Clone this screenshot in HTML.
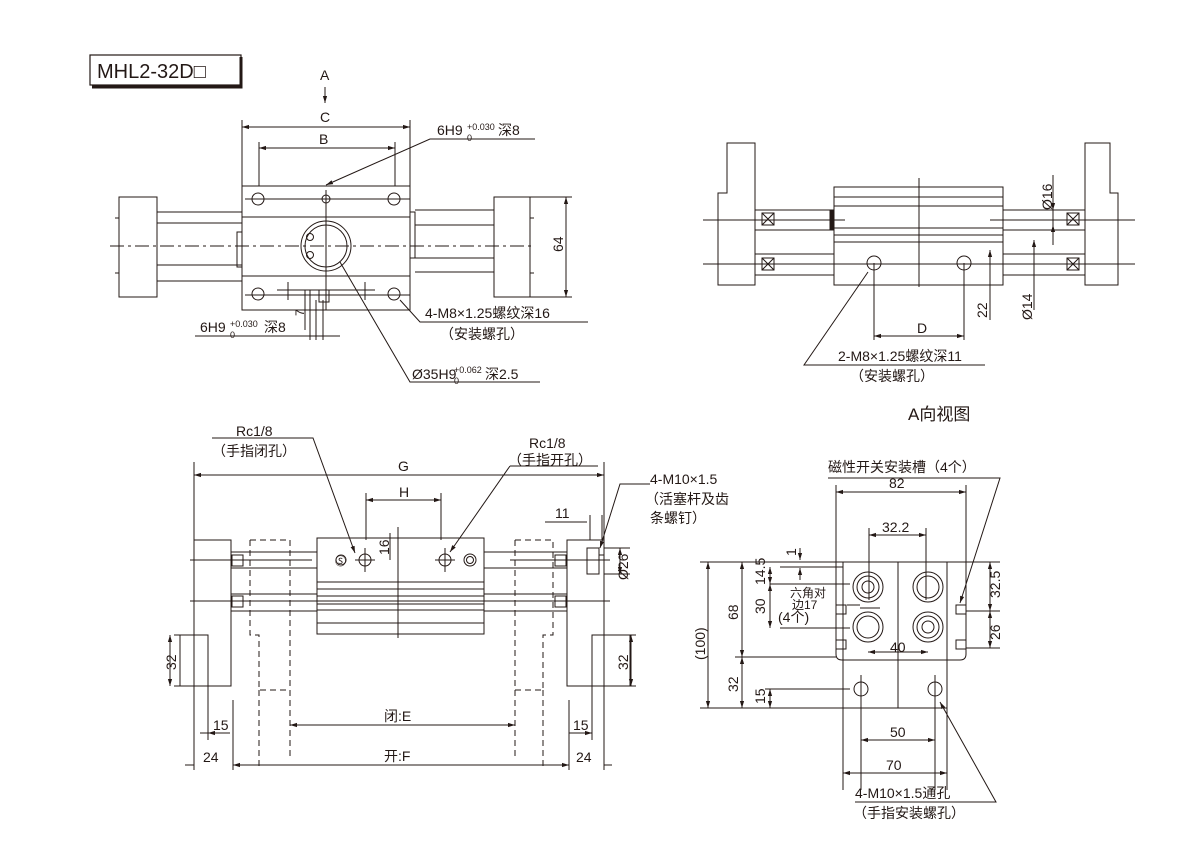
<!DOCTYPE html>
<html><head><meta charset="utf-8"><style>
html,body{margin:0;padding:0;background:#fff}
svg{display:block}
text{font-family:"Liberation Sans","Noto Sans CJK SC",sans-serif;fill:#231815}
</style></head><body>
<svg width="1200" height="850" viewBox="0 0 1200 850" xmlns="http://www.w3.org/2000/svg">
<defs>
<marker id="a" viewBox="0 0 10 10" refX="10" refY="5" markerWidth="7" markerHeight="7" orient="auto-start-reverse"><path d="M0,2 L10,5 L0,8z" fill="#231815"/></marker>
</defs>
<g stroke="#231815" fill="none" stroke-width="1">
<!-- title -->
<rect x="90" y="55" width="151" height="30" stroke-width="1.2"/>
<path d="M241,57 V87 H92" stroke-width="3"/>

<!-- ===== TOP LEFT ===== -->
<path d="M325,87 V103" marker-end="url(#a)"/>
<path d="M242,120 V186 M410,120 V186 M259,142 V186 M395,142 V186"/>
<path d="M242,127 H410" marker-start="url(#a)" marker-end="url(#a)"/>
<path d="M259,148 H395" marker-start="url(#a)" marker-end="url(#a)"/>
<rect x="242" y="186" width="168" height="124"/>
<path d="M242,217 H410 M242,276 H410 M245,199 H410 M245,295 H410"/>
<circle cx="258" cy="199" r="6"/><circle cx="326" cy="199" r="4"/><circle cx="394" cy="199" r="6"/>
<circle cx="258" cy="294" r="6"/><circle cx="394" cy="294" r="6"/>
<circle cx="326" cy="246" r="25"/><circle cx="326" cy="246" r="21"/>
<circle cx="310" cy="237" r="3.5"/><circle cx="310" cy="255" r="3.5"/>
<path d="M326,190 V310" />
<rect x="319" y="290" width="10" height="12"/>
<path d="M277,290 H375 M288,282 V300 M365,282 V300 M305,290 V330 M310,290 V340 M316,300 V340 M323,300 V340"/>
<path d="M195,336 H340"/>
<rect x="119" y="197" width="38" height="100"/>
<path d="M157,212 H242 M157,223 H242 M157,265 H242 M157,281 H242 M115,218 H119 M115,273 H119"/>
<rect x="237" y="232" width="5" height="35"/>
<rect x="410" y="212" width="5" height="46"/>
<rect x="494" y="197" width="36" height="100"/>
<path d="M415,210 H494 M415,225 H494 M415,258 H494 M415,272 H494 M530,218 H534 M530,273 H534"/>
<path d="M110,246 H535" stroke-dasharray="14,4,3,4"/>
<path d="M495,197 H572 M495,297 H572"/>
<path d="M566,197 V297" marker-start="url(#a)" marker-end="url(#a)"/>
<!-- leaders -->
<path d="M535,139 H430 L326,185" marker-end="url(#a)"/>
<path d="M588,322 H420 L400,300" />
<path d="M540,382 H410 L340,262"/>

<!-- ===== TOP RIGHT ===== -->
<path d="M727,143 H755 V285 H718 V193 H727 Z"/>
<path d="M1085,143 H1110 V193 H1118 V285 H1085 Z"/>
<rect x="834" y="187" width="169" height="98"/>
<path d="M834,197 H1003 M834,206 H1003 M834,228 H1003 M834,235 H1003 M834,242 H1003"/>
<path d="M755,210 H834 M755,230 H834 M1003,210 H1085 M1003,230 H1085 M755,254 H834 M755,275 H834 M1003,254 H1085 M1003,275 H1085"/>
<rect x="830" y="210" width="4" height="20" fill="#231815"/>
<path d="M703,220 H845 M990,220 H1135 M703,264 H1135"/>
<rect x="762" y="213" width="12" height="12"/><rect x="1067" y="213" width="12" height="12"/>
<rect x="762" y="258" width="12" height="12"/><rect x="1067" y="258" width="12" height="12"/>
<path d="M762,213 L774,225 M774,213 L762,225 M1067,213 L1079,225 M1079,213 L1067,225 M762,258 L774,270 M774,258 L762,270 M1067,258 L1079,270 M1079,258 L1067,270"/>
<circle cx="874" cy="263" r="7"/><circle cx="964" cy="263" r="7"/>
<path d="M919,178 V287" />
<path d="M874,263 V340 M964,263 V340 M990,250 V320 M1034,240 V310 M1053,175 V245"/>
<path d="M874,336 H964" marker-start="url(#a)" marker-end="url(#a)"/>
<path d="M990,250 V290" marker-start="url(#a)"/><path d="M1034,240 V280" marker-start="url(#a)"/>
<path d="M1053,198 V210" marker-end="url(#a)"/><path d="M1053,240 V225" marker-end="url(#a)"/>
<path d="M985,365 H804 L868,272" />

<!-- ===== BOTTOM LEFT ===== -->
<path d="M194,462 V770 M604,462 V770 M233,700 V770 M569,700 V770"/>
<path d="M194,475 H604" marker-start="url(#a)" marker-end="url(#a)"/>
<path d="M366,493 V540 M441,493 V540"/>
<path d="M366,500 H441" marker-start="url(#a)" marker-end="url(#a)"/>
<rect x="194" y="540" width="37" height="146"/>
<rect x="180" y="635" width="28" height="51"/>
<rect x="567" y="540" width="37" height="146"/>
<rect x="592" y="635" width="38" height="51"/>
<rect x="317" y="538" width="167" height="96"/>
<path d="M317,582 H484 M317,589 H484 M317,596 H484 M317,604 H484 M317,610 H484 M317,623 H484"/>
<path d="M398,527 V638"/>
<path d="M231,552 H317 M231,568 H317 M231,594 H317 M231,611 H317 M484,552 H567 M484,568 H567 M484,594 H567 M484,611 H567"/>
<path d="M190,560 H312 M510,560 H610 M190,601 H610"/>
<rect x="232" y="555" width="11" height="11"/><rect x="232" y="596" width="11" height="11"/>
<rect x="555" y="555" width="11" height="11"/><rect x="555" y="596" width="11" height="11"/>
<circle cx="365" cy="560" r="6"/><circle cx="445" cy="560" r="6"/>
<circle cx="341" cy="560" r="5"/><circle cx="470" cy="560" r="6"/><circle cx="470" cy="560" r="3.5"/>
<path d="M355,560 H375 M435,560 H455 M365,548 V572 M445,548 V572"/>
<rect x="587" y="548" width="12" height="26"/>
<path d="M599,555 H604 M604,552 V568"/>
<path d="M250,540 H290 M250,540 V635 H259 V690 H290 M290,540 V760" stroke-dasharray="6,4"/>
<path d="M515,540 H553 V635 H543 V690 H515 M515,540 V760" stroke-dasharray="6,4"/>
<path d="M259,690 V770 M543,690 V770" stroke-dasharray="6,4"/>
<path d="M174,635 H208 M174,686 H208 M592,635 H636 M592,686 H636"/>
<path d="M170,635 V686" marker-start="url(#a)" marker-end="url(#a)"/>
<path d="M631,635 V686" marker-start="url(#a)" marker-end="url(#a)"/>
<path d="M290,725 H515" marker-start="url(#a)" marker-end="url(#a)"/>
<path d="M233,765 H569" marker-start="url(#a)" marker-end="url(#a)"/>
<path d="M208,686 V740 M592,686 V740"/>
<path d="M208,733 H230 M200,733 H208" /><path d="M185,765 H194 M233,765 H240"/>
<path d="M569,733 H592 M560,765 H569 M604,765 H612"/>
<path d="M208,733 L212,733" marker-start="url(#a)"/>
<path d="M592,733 L588,733" marker-start="url(#a)"/>
<path d="M390,533 V560"/>
<path d="M545,522 H587 M590,515 V540 M602,515 V540"/>
<path d="M604,548 H630 M604,574 H630"/>
<path d="M620,548 V574" marker-start="url(#a)" marker-end="url(#a)"/>
<!-- leaders bottom left -->
<path d="M212,438 H313 L355,553" marker-end="url(#a)"/>
<path d="M510,466 H598"/><path d="M510,466 L450,552" marker-end="url(#a)"/>
<path d="M650,484 H620 L600,548" marker-end="url(#a)"/>

<!-- ===== BOTTOM RIGHT ===== -->
<path d="M836,485 V562 M966,485 V562"/>
<path d="M836,492 H966" marker-start="url(#a)" marker-end="url(#a)"/>
<path d="M869,528 V600 M926,528 V600"/>
<path d="M869,535 H926" marker-start="url(#a)" marker-end="url(#a)"/>
<path d="M836,562 H966 V654 Q966,660 960,660 H842 Q836,660 836,654 Z"/>
<path d="M843,562 V790 M947,562 V790 M898,562 V708"/>
<rect x="843" y="660" width="104" height="48"/>
<circle cx="868" cy="587" r="15"/><circle cx="868" cy="587" r="11"/><circle cx="868" cy="587" r="6"/>
<circle cx="928" cy="587" r="15"/><circle cx="928" cy="587" r="11"/>
<circle cx="868" cy="627" r="15"/><circle cx="868" cy="627" r="11"/>
<circle cx="928" cy="627" r="15"/><circle cx="928" cy="627" r="11"/><circle cx="928" cy="627" r="6"/>
<circle cx="861" cy="689" r="7"/><circle cx="935" cy="689" r="7"/>
<path d="M861,675 V790 M935,675 V790"/>
<rect x="836" y="605" width="10" height="9"/><rect x="836" y="640" width="10" height="9"/>
<rect x="956" y="605" width="10" height="9"/><rect x="956" y="640" width="10" height="9"/>
<path d="M700,562 H836 M780,567 H843 M770,584 H850 M780,628 H850 M735,657 H836 M700,708 H843 M765,689 H850"/>
<path d="M966,562 H1000 M966,611 H1000 M966,648 H1000"/>
<path d="M708,562 V708" marker-start="url(#a)" marker-end="url(#a)"/>
<path d="M742,562 V657" marker-start="url(#a)" marker-end="url(#a)"/>
<path d="M742,657 V708" marker-start="url(#a)" marker-end="url(#a)"/>
<path d="M770,567 V584" marker-start="url(#a)" marker-end="url(#a)"/>
<path d="M770,584 V628" marker-start="url(#a)" marker-end="url(#a)"/>
<path d="M770,689 V708" marker-start="url(#a)" marker-end="url(#a)"/>
<path d="M800,548 V560" marker-end="url(#a)"/><path d="M800,580 V568" marker-end="url(#a)"/>
<path d="M990,562 V611" marker-start="url(#a)" marker-end="url(#a)"/>
<path d="M990,611 V648" marker-start="url(#a)" marker-end="url(#a)"/>
<path d="M868,652 H928" marker-start="url(#a)" marker-end="url(#a)"/>
<path d="M861,740 H935" marker-start="url(#a)" marker-end="url(#a)"/>
<path d="M843,773 H947" marker-start="url(#a)" marker-end="url(#a)"/>
<path d="M847,605 H860 M860,608 H880"/>
<path d="M828,478 H1000 L960,603" marker-end="url(#a)"/>
<path d="M855,802 H996 L940,702" marker-end="url(#a)"/>
</g>

<g font-size="14">
<text x="97" y="78" font-size="20">MHL2-32D□</text>
<text x="320" y="80">A</text>
<text x="320" y="122">C</text>
<text x="319" y="144">B</text>
<text x="437" y="135">6H9</text><text x="467" y="130" font-size="9">+0.030</text><text x="467" y="141" font-size="9">0</text><text x="498" y="135">深8</text>
<text x="200" y="332">6H9</text><text x="230" y="327" font-size="9">+0.030</text><text x="230" y="338" font-size="9">0</text><text x="264" y="332">深8</text>
<text x="425" y="318">4-M8×1.25螺纹深16</text>
<text x="440" y="339">（安装螺孔）</text>
<text x="412" y="379">Ø35H9</text><text x="454" y="373" font-size="9">+0.062</text><text x="454" y="384" font-size="9">0</text><text x="485" y="379">深2.5</text>
<text transform="translate(563,252) rotate(-90)">64</text>
<text transform="translate(304,316) rotate(-90)" font-size="12">7</text>

<text x="917" y="333">D</text>
<text x="838" y="361">2-M8×1.25螺纹深11</text>
<text x="850" y="381">（安装螺孔）</text>
<text transform="translate(987,318) rotate(-90)">22</text>
<text transform="translate(1032,320) rotate(-90)">Ø14</text>
<text transform="translate(1052,210) rotate(-90)">Ø16</text>
<text x="908" y="420" font-size="17">A向视图</text>

<text x="236" y="436">Rc1/8</text>
<text x="212" y="456">（手指闭孔）</text>
<text x="529" y="448">Rc1/8</text>
<text x="508" y="465">（手指开孔）</text>
<text x="398" y="471">G</text>
<text x="399" y="497">H</text>
<text x="555" y="518">11</text>
<text x="650" y="484">4-M10×1.5</text>
<text x="645" y="504">（活塞杆及齿</text>
<text x="650" y="523">条螺钉）</text>
<text transform="translate(389,555) rotate(-90)">16</text>
<text transform="translate(628,580) rotate(-90)">Ø26</text>
<text transform="translate(176,670) rotate(-90)">32</text>
<text transform="translate(628,670) rotate(-90)">32</text>
<text x="384" y="721">闭:E</text>
<text x="384" y="761">开:F</text>
<text x="213" y="730">15</text><text x="573" y="730">15</text>
<text x="203" y="762">24</text><text x="576" y="762">24</text>
<text x="335" y="565" font-size="11">Ⓢ</text>

<text x="828" y="472">磁性开关安装槽（4个）</text>
<text x="889" y="488">82</text>
<text x="882" y="532">32.2</text>
<text x="890" y="652">40</text>
<text x="890" y="737">50</text>
<text x="886" y="770">70</text>
<text x="855" y="798">4-M10×1.5通孔</text>
<text x="853" y="818">（手指安装螺孔）</text>
<text x="790" y="597" font-size="12">六角对</text>
<text x="792" y="609" font-size="12">边17</text>
<text x="778" y="622">(4个)</text>
<text transform="translate(705,660) rotate(-90)">(100)</text>
<text transform="translate(738,620) rotate(-90)">68</text>
<text transform="translate(738,692) rotate(-90)">32</text>
<text transform="translate(765,585) rotate(-90)">14.5</text>
<text transform="translate(765,614) rotate(-90)">30</text>
<text transform="translate(765,704) rotate(-90)">15</text>
<text transform="translate(796,556) rotate(-90)">1</text>
<text transform="translate(1000,598) rotate(-90)">32.5</text>
<text transform="translate(1000,640) rotate(-90)">26</text>
</g>
</svg>
</body></html>
